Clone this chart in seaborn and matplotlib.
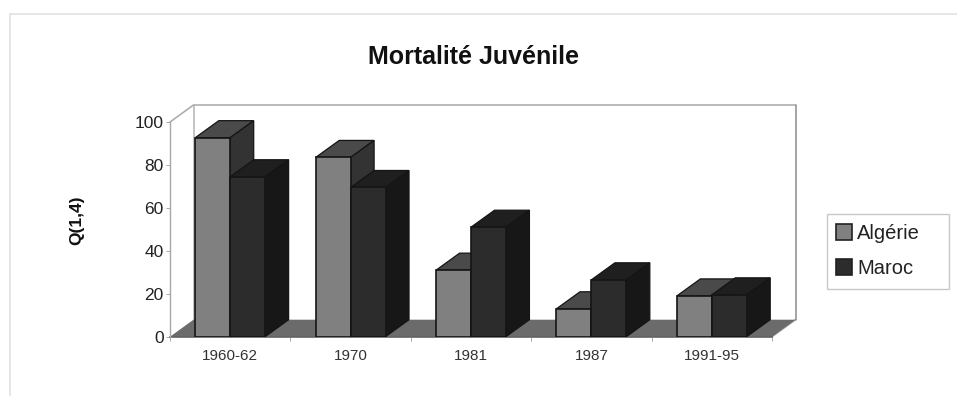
import matplotlib
matplotlib.use("Agg")
import matplotlib.pyplot as plt
from matplotlib.lines import Line2D
from matplotlib.patches import Rectangle
import pandas as pd
import seaborn as sns

periods = ["1960-62", "1970", "1981", "1987", "1991-95"]
algerie = [92.7, 83.5, 31, 13, 19]
maroc = [74.5, 69.5, 51, 26.5, 19.5]
y_ticks = [0, 20, 40, 60, 80, 100]

W, H = 957, 396
sns.set_theme(style="white")
plt.rcParams["font.family"] = ["Liberation Sans", "DejaVu Sans"]

df = pd.DataFrame({
    "periode": periods * 2,
    "serie": ["Algérie"] * len(periods) + ["Maroc"] * len(periods),
    "q": algerie + maroc,
})

fig = plt.figure(figsize=(W / 100, H / 100), dpi=100, facecolor="white")
# Axes box is the front plane of the pseudo-3D chart
left, right, bottom, top = 170, 772, 336.7, 122
ax = fig.add_axes([left / W, 1 - bottom / H, (right - left) / W, (bottom - top) / H])
ax.patch.set_alpha(0)

front = {"Algérie": "#808080", "Maroc": "#2c2c2c"}
top_face = {"Algérie": "#4a4a4a", "Maroc": "#1f1f1f"}
side_face = {"Algérie": "#333333", "Maroc": "#171717"}
edge = "#151515"

sns.barplot(data=df, x="periode", y="q", hue="serie", order=periods,
            hue_order=["Algérie", "Maroc"], palette=front, width=0.58, gap=0,
            saturation=1, edgecolor=edge, linewidth=1.2, zorder=3, ax=ax)
ax.set_xlim(-0.5, 4.5)
ax.set_ylim(0, 100)

# Receding depth expressed in data units
dx = 23.5 / ((right - left) / 5)
dy = 17 / ((bottom - top) / 100)

x0, x1 = -0.5, 4.5
ax.fill([x0, x1, x1 + dx, x0 + dx], [0, 0, dy, dy], color="#6b6b6b", lw=0, zorder=1, clip_on=False)
for xs, ys, c in [
    ([x0, x0 + dx, x1 + dx], [100, 100 + dy, 100 + dy], "#a8a8a8"),
    ([x1 + dx, x1 + dx], [100 + dy, dy], "#8c8c8c"),
    ([x0 + dx, x0 + dx], [dy, 100 + dy], "#b4b4b4"),
    ([x1, x1 + dx], [0, dy], "#9a9a9a"),
]:
    ax.plot(xs, ys, color=c, lw=1.1, zorder=0.5, clip_on=False)

# Top and side faces extruded from each drawn bar
bars = [p for c in ax.containers for p in c]
names = ["Algérie"] * len(periods) + ["Maroc"] * len(periods)
for bar, name in zip(bars, names):
    xa = bar.get_x()
    xb = xa + bar.get_width()
    h = bar.get_height()
    z = 2.0 if name == "Algérie" else 2.5
    ax.fill([xa, xb, xb + dx, xa + dx], [h, h, h + dy, h + dy],
            facecolor=top_face[name], edgecolor=edge, lw=0.9, zorder=z, clip_on=False)
    ax.fill([xb, xb + dx, xb + dx, xb], [0, dy, h + dy, h],
            facecolor=side_face[name], edgecolor=edge, lw=0.9, zorder=z, clip_on=False)

for s in ["top", "right"]:
    ax.spines[s].set_visible(False)
ax.spines["left"].set_color("#a8a8a8")
ax.spines["left"].set_linewidth(1.0)
ax.spines["bottom"].set_color("#555555")
ax.spines["bottom"].set_linewidth(1.1)
ax.spines["bottom"].set_zorder(1.5)

ax.set_yticks(y_ticks)
ax.tick_params(axis="y", left=True, length=3, width=0.7, color="#a8a8a8",
               labelsize=12.5, labelcolor="#222222", pad=1.5)
ax.set_xticks(range(len(periods)), periods)
ax.tick_params(axis="x", which="major", bottom=False, labelsize=11, labelcolor="#333333", pad=2.5)
ax.set_xticks([i - 0.5 for i in range(len(periods) + 1)], minor=True)
ax.tick_params(axis="x", which="minor", bottom=True, length=3, width=0.7, color="#a8a8a8")
ax.set_xlabel("")
ax.set_ylabel("")

fig.text(474 / W, 1 - 57 / H, "Mortalité Juvénile", fontsize=18, fontweight="bold",
         color="#111111", ha="center", va="center")
fig.text(77 / W, 1 - 220 / H, "Q(1,4)", fontsize=12.5, fontweight="bold", color="#111111",
         rotation=90, ha="center", va="center")

# Legend entries inside a wider hand-placed box
fig.add_artist(Rectangle((827 / W, 1 - 289 / H), 122 / W, 75 / H, transform=fig.transFigure,
                         facecolor="none", edgecolor="#c8c8c8", lw=1.0))
sns.move_legend(ax, "center left", bbox_to_anchor=(836 / W, 1 - 251 / H),
                bbox_transform=fig.transFigure, title=None, frameon=False, fontsize=14.5,
                handlelength=0.8, handleheight=0.8, handletextpad=0.25,
                labelspacing=0.78, borderaxespad=0, borderpad=0)
leg = ax.get_legend()
leg.set_zorder(6)
for t in leg.get_texts():
    t.set_color("#222222")
for hd in leg.legend_handles:
    hd.set_edgecolor("#222222")

# Faint outer chart frame along the top and left
for xs, ys in [([10, 10], [14, H]), ([10, W], [14, 14])]:
    fig.add_artist(Line2D([x / W for x in xs], [1 - y / H for y in ys],
                          color="#e2e2e2", lw=1.2, transform=fig.transFigure))

fig.savefig("out.png", dpi=100, facecolor="white")
